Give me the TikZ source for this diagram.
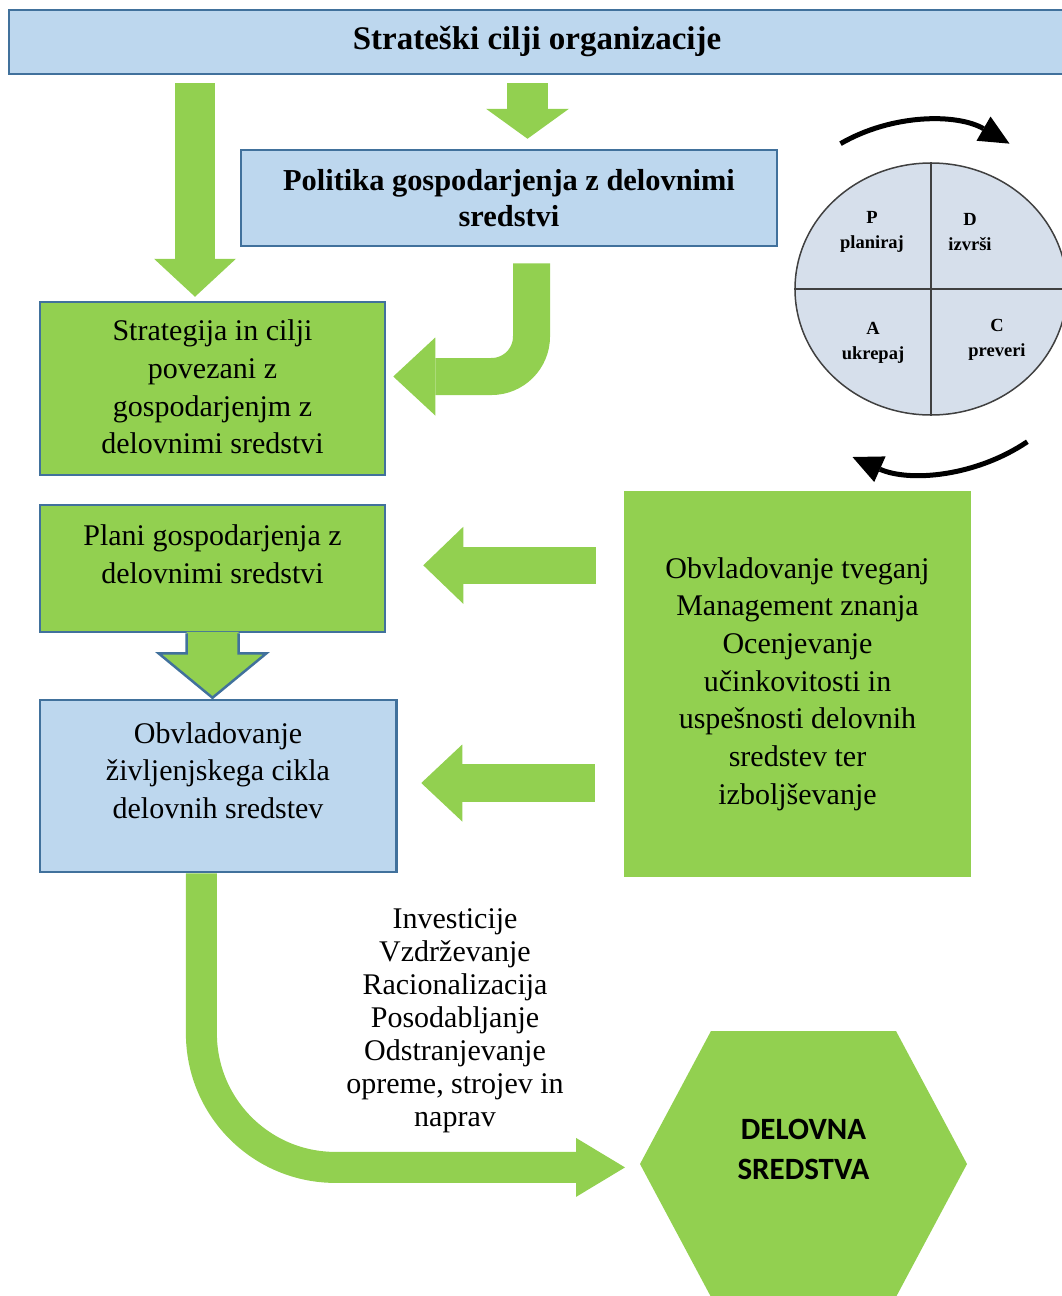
\documentclass[tikz,border=0pt]{standalone}
\usepackage{fontspec}
\setmainfont{Liberation Serif}
\newfontfamily\hexfont{Carlito}
\usetikzlibrary{arrows.meta,calc,shapes.geometric}
\definecolor{leaf}{HTML}{92D050}
\definecolor{sky}{HTML}{BDD7EE}
\definecolor{rim}{HTML}{41719C}
\definecolor{pdcafill}{HTML}{D6DFEB}

\begin{document}
\begin{tikzpicture}[x=1pt,y=-1pt,
  box/.style={draw=rim,line width=2.5pt,inner sep=0pt},
  txt/.style={align=center,font=\fontsize{30}{37.7}\selectfont},
  quad/.style={align=center,font=\bfseries\fontsize{18.5}{25.5}\selectfont},
  blk/.style n args={3}{draw=leaf,line width=#1,-{Triangle[length=#2,width=#3,line width=0pt]}},
  cyc/.style={line width=5pt,-{Triangle[length=30pt,width=28pt,line width=0pt]}}]
\useasboundingbox (0,0) rectangle (1061,1296);
\node[box,fill=sky,minimum width=1056pt,minimum height=64pt,font=\bfseries\fontsize{33}{40}\selectfont] (goals) at (537,42) {Strateški cilji organizacije};
\node[box,fill=sky,minimum width=536pt,minimum height=96pt,align=center,font=\bfseries\fontsize{30.4}{36}\selectfont] (policy) at (509,198) {Politika gospodarjenja z delovnimi\\sredstvi};
\node[box,fill=leaf,minimum width=345pt,minimum height=173pt] (strategy) at (212.5,388.5) {};
\node[txt] (strategytext) at (212.5,387) {Strategija in cilji\\povezani z\\gospodarjenjm z\\delovnimi sredstvi};
\node[box,fill=leaf,minimum width=345pt,minimum height=127pt] (plans) at (212.5,568.5) {};
\node[txt] (planstext) at (212.5,554) {Plani gospodarjenja z\\delovnimi sredstvi};
\node[box,fill=sky,minimum width=356.6pt,minimum height=172pt] (lifecycle) at (218.3,786) {};
\node[txt] (lifecycletext) at (218,770.5) {Obvladovanje\\življenjskega cikla\\delovnih sredstev};
\node[fill=leaf,minimum width=347pt,minimum height=386pt,txt] (support) at (797.5,684) {Obvladovanje tveganj\\Management znanja\\Ocenjevanje\\učinkovitosti in\\uspešnosti delovnih\\sredstev ter\\izboljševanje};
\node[align=center,font=\fontsize{30}{33}\selectfont] (actions) at (455,1021) {Investicije\\Vzdrževanje\\Racionalizacija\\Posodabljanje\\Odstranjevanje\\opreme, strojev in\\naprav};
\coordinate (hexc) at (803.5,1164);
\fill[leaf] ($(hexc)+(-163.5,0)$) -- ++(71,-133) -- ++(185,0) -- ++(71,133) -- ++(-71,133) -- ++(-185,0) -- cycle;
\node[align=center,font=\hexfont\bfseries\fontsize{31}{40}\selectfont] (assets) at ($(hexc)+(0,-15)$) {DELOVNA\\SREDSTVA};
\fill[leaf] ($(plans.south)+(-26,-1.5)$) -- ++(0,21.5) -- ++(-28,0) -- ($(plans.south |- lifecycle.north)+(0,-1)$) -- ($(plans.south)+(54,20)$) -- ++(-28,0) -- ++(0,-21.5) -- cycle;
\draw[rim,line width=2.5pt] ($(plans.south)+(-26,0)$) -- ++(0,20) -- ++(-28,0) -- ($(plans.south |- lifecycle.north)+(0,-1)$) -- ($(plans.south)+(54,20)$) -- ++(-28,0) -- ++(0,-20);
\draw[blk={40pt}{38pt}{82pt}] ($(goals.south -| 195,0)+(0,8)$) -- ($(strategy.north -| 195,0)+(0,-4)$);
\draw[blk={41pt}{30pt}{83pt}] ($(goals.south -| 527.5,0)+(0,8)$) -- ($(policy.north -| 527.5,0)+(0,-10)$);
\draw[blk={37pt}{42pt}{78pt},rounded corners=40pt] ($(policy.south -| 531.5,0)+(0,16)$) |- ($(strategy.east |- 0,376.5)+(7,0)$);
\draw[blk={37pt}{40pt}{77pt}] ($(support.west |- 0,565.3)+(-28,0)$) -- ($(plans.east |- 0,565.3)+(37,0)$);
\draw[blk={38pt}{41pt}{77pt}] ($(support.west |- 0,783)+(-29,0)$) -- ($(lifecycle.east |- 0,783)+(23.4,0)$);
\draw[blk={31pt}{49pt}{59pt},rounded corners=134pt] (lifecycle.south -| 201.4,0) |- ($(hexc)+(-178.5,3.4)$);
\node[ellipse,draw=black!75,fill=pdcafill,line width=1.5pt,minimum width=272pt,minimum height=252pt,inner sep=0pt] (pdca) at (931,289) {};
\draw[black!75,line width=1.5pt] (pdca.north) -- (pdca.south);
\draw[black!75,line width=1.5pt] (pdca.west) -- (pdca.east);
\node[quad] (plan) at (872,232) {P\\planiraj};
\node[quad] (do) at (970,232) {D\\izvrši};
\node[quad] (act) at (873,343) {A\\ukrepaj};
\node[quad] (check) at (997,340) {C\\preveri};
\draw[cyc] ($(pdca)+(-6,1)+(-120:169)$) arc[start angle=-120,end angle=-60,radius=169];
\draw[cyc] ($(pdca)+(-6,1)+(56:183)$) arc[start angle=56,end angle=114,radius=181];
\end{tikzpicture}
\end{document}
